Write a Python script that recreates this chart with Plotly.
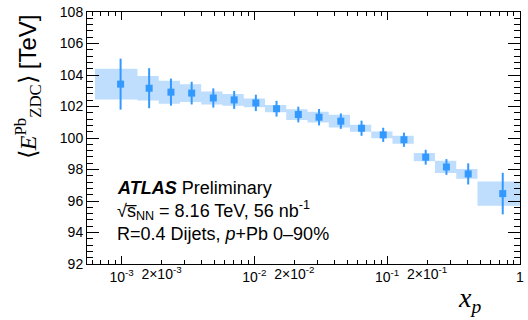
import plotly.graph_objects as go

# ---- data ----
x_centers = [0.000984, 0.001614, 0.002355, 0.003373, 0.004909, 0.007047, 0.01026, 0.01469,
             0.02143, 0.03069, 0.04477, 0.06412, 0.09333, 0.1337, 0.1950, 0.2793, 0.4074, 0.7413]
bin_lo = [0.000631, 0.001318, 0.001905, 0.002754, 0.003981, 0.005754, 0.008318, 0.01202,
          0.01738, 0.02512, 0.03631, 0.05248, 0.07586, 0.1096, 0.1585, 0.2291, 0.3311, 0.4786]
bin_hi = [0.001318, 0.001905, 0.002754, 0.003981, 0.005754, 0.008318, 0.01202, 0.01738,
          0.02512, 0.03631, 0.05248, 0.07586, 0.1096, 0.1585, 0.2291, 0.3311, 0.4786, 1.0]
e_zdc = [103.42, 103.16, 102.91, 102.85, 102.54, 102.42, 102.23, 101.86, 101.49,
         101.32, 101.07, 100.62, 100.20, 99.89, 98.78, 98.16, 97.72, 96.47]
stat_err = [1.62, 1.27, 0.86, 0.72, 0.61, 0.57, 0.52, 0.50, 0.50,
            0.52, 0.49, 0.48, 0.45, 0.45, 0.47, 0.50, 0.67, 1.32]
sys_err = [0.98, 0.78, 0.73, 0.56, 0.42, 0.37, 0.28, 0.23, 0.34,
           0.34, 0.40, 0.22, 0.22, 0.26, 0.26, 0.39, 0.31, 0.77]

x_major_vals = [0.001, 0.01, 0.1, 1]
x_major_text = ["10<sup>-3</sup>", "10<sup>-2</sup>", "10<sup>-1</sup>", "1"]
x_two_vals = [0.002, 0.02, 0.2]
x_two_text = ["2×10<sup>-3</sup>", "2×10<sup>-2</sup>", "2×10<sup>-1</sup>"]
y_ticks = [92, 94, 96, 98, 100, 102, 104, 106, 108]

BLUE = "#3399ff"
BOX = "#bfdefd"
SANS = "Liberation Sans, Arial, sans-serif"
SERIF = "Liberation Serif, Times New Roman, serif"

# systematic boxes as closed polygons (one trace, gaps separate rectangles)
bx, by = [], []
for lo, hi, v, s in zip(bin_lo, bin_hi, e_zdc, sys_err):
    bx += [lo, hi, hi, lo, lo, None]
    by += [v - s, v - s, v + s, v + s, v - s, None]

minor_vals = []
for dec in [0.0001, 0.001, 0.01, 0.1]:
    for k in range(2, 10):
        minor_vals.append(k * dec)

fig = go.Figure()
fig.add_trace(go.Scatter(x=bx, y=by, mode="lines", fill="toself", fillcolor=BOX,
                         line=dict(width=0, color=BOX), hoverinfo="skip", showlegend=False))
fig.add_trace(go.Scatter(x=x_centers, y=e_zdc, mode="markers",
                         marker=dict(symbol="square", size=7, color=BLUE),
                         error_y=dict(type="data", array=stat_err, visible=True,
                                      color=BLUE, thickness=2, width=0),
                         showlegend=False))
# helper trace so the secondary x axis (2x10^n labels) is drawn
fig.add_trace(go.Scatter(x=[], y=[], xaxis="x2", showlegend=False))

fig.update_layout(
    width=528, height=320,
    margin=dict(l=87, r=4, t=6, b=56),
    paper_bgcolor="white", plot_bgcolor="white",
    font=dict(family=SANS, size=14, color="black"),
    xaxis=dict(type="log", range=[-3.26, 0], showgrid=False, zeroline=False,
               showline=True, linecolor="black", linewidth=1, mirror="ticks",
               ticks="inside", ticklen=8, tickcolor="black",
               tickmode="array", tickvals=x_major_vals, ticktext=x_major_text,
               tickfont=dict(family=SANS, size=14), ticklabeloverflow="allow",
               minor=dict(ticks="inside", ticklen=4, tickcolor="black",
                          tickmode="array", tickvals=minor_vals, showgrid=False)),
    xaxis2=dict(type="log", range=[-3.26, 0], overlaying="x", anchor="y", side="bottom",
                showgrid=False, zeroline=False, showline=False,
                ticks="inside", ticklen=4, tickcolor="black",
                tickmode="array", tickvals=x_two_vals, ticktext=x_two_text,
                tickfont=dict(family=SANS, size=14), ticklabeloverflow="allow"),
    yaxis=dict(range=[92, 108], showgrid=False, zeroline=False,
               showline=True, linecolor="black", linewidth=1, mirror="ticks",
               ticks="inside", ticklen=12, tickcolor="black",
               tickmode="array", tickvals=y_ticks,
               tickfont=dict(family=SANS, size=14), ticklabeloverflow="allow",
               minor=dict(ticks="inside", ticklen=6, tickcolor="black",
                          dtick=0.4, showgrid=False)),
)

# axis titles
fig.add_annotation(xref="paper", yref="paper", x=-0.137, y=1.0, xanchor="center", yanchor="top",
                   textangle=-90, showarrow=False,
                   text="⟨<i>E</i><sup>Pb</sup><sub>ZDC</sub>⟩ <span style=\"font-family:Liberation Sans\">[TeV]</span>",
                   font=dict(family=SERIF, size=24, color="black"))
fig.add_annotation(xref="paper", yref="paper", x=0.883, y=-0.14, xanchor="center", yanchor="middle",
                   showarrow=False, text="<i>x</i><sub><i>p</i></sub>",
                   font=dict(family=SERIF, size=28, color="black"))

# ATLAS label block
label_lines = [
    "<b><i>ATLAS</i></b> Preliminary",
    "√s\u0305<sub>NN</sub> = 8.16 TeV, 56 nb<sup>-1</sup>",
    "R=0.4 Dijets, <i>p</i>+Pb 0–90%",
]
label_y = [0.302, 0.213, 0.120]
for t, yy in zip(label_lines, label_y):
    fig.add_annotation(xref="paper", yref="paper", x=0.064, y=yy, xanchor="left", yanchor="middle",
                       showarrow=False, text=t, font=dict(family=SANS, size=18, color="black"))

fig.write_html("out.html")
